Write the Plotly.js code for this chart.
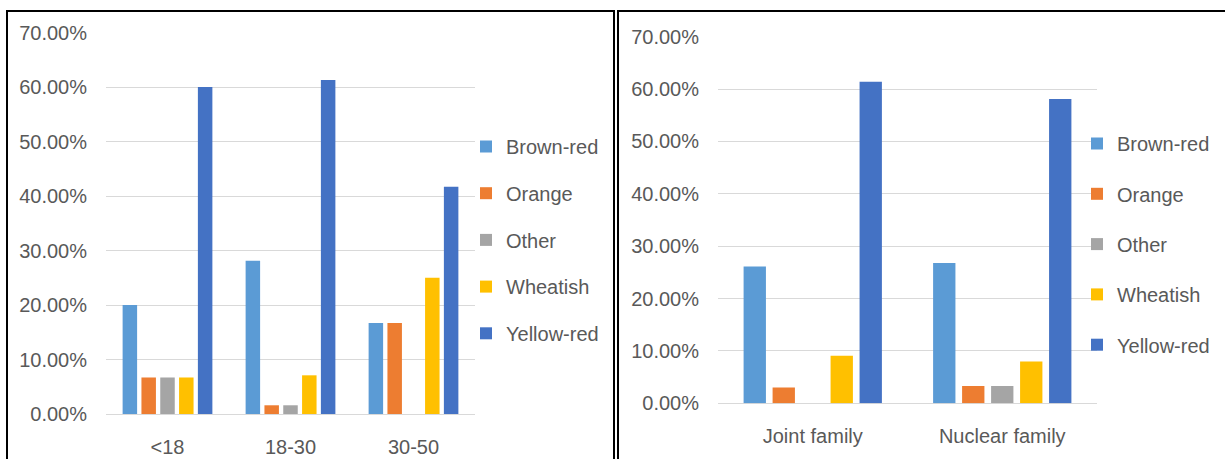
<!DOCTYPE html>
<html>
<head>
<meta charset="utf-8">
<script src="https://cdn.plot.ly/plotly-3.0.1.min.js"></script>
<style>
  html, body { margin: 0; padding: 0; background: #ffffff; }
  #chart { width: 1225px; height: 459px; }
</style>
</head>
<body>
<div id="chart"></div>
<script>
// Skin colour distribution (%) by age group and by family type
const seriesNames = ["Brown-red", "Orange", "Other", "Wheatish", "Yellow-red"];
const seriesColors = ["#5B9BD5", "#ED7D31", "#A5A5A5", "#FFC000", "#4472C4"];

const ageGroups = ["<18", "18-30", "30-50"];
const ageBrownRed  = [20.0, 28.1, 16.7];
const ageOrange    = [6.7, 1.6, 16.7];
const ageOther     = [6.7, 1.6, 0.0];
const ageWheatish  = [6.7, 7.1, 25.0];
const ageYellowRed = [60.0, 61.3, 41.7];

const familyTypes = ["Joint family", "Nuclear family"];
const famBrownRed  = [26.1, 26.8];
const famOrange    = [3.0, 3.3];
const famOther     = [0.0, 3.3];
const famWheatish  = [9.1, 8.0];
const famYellowRed = [61.4, 58.1];

const yTicks = [0, 10, 20, 30, 40, 50, 60, 70];
const yTickLabels = ["0.00%", "10.00%", "20.00%", "30.00%", "40.00%", "50.00%", "60.00%", "70.00%"];

const W = 1225, H = 459;
const px = v => v / W;          // horizontal pixel -> paper fraction
const py = v => 1 - v / H;      // vertical pixel (from top) -> paper fraction

const textColor = "#595959";
const gridColor = "#D9D9D9";
const fontFamily = "'Liberation Sans', Arial, sans-serif";
const fontSize = 20;

const ageSeries = [ageBrownRed, ageOrange, ageOther, ageWheatish, ageYellowRed];
const famSeries = [famBrownRed, famOrange, famOther, famWheatish, famYellowRed];

const traces = [];
seriesNames.forEach((name, i) => {
  traces.push({
    type: "bar", name: name, x: ageGroups, y: ageSeries[i],
    xaxis: "x", yaxis: "y", legend: "legend", legendgroup: "a" + i,
    marker: { color: seriesColors[i], line: { width: 0 } },
    hoverinfo: "x+y+name"
  });
});
seriesNames.forEach((name, i) => {
  traces.push({
    type: "bar", name: name, x: familyTypes, y: famSeries[i],
    xaxis: "x2", yaxis: "y2", legend: "legend2", legendgroup: "f" + i,
    marker: { color: seriesColors[i], line: { width: 0 } },
    hoverinfo: "x+y+name"
  });
});

function yAxis(domain, anchor) {
  return {
    domain: domain, anchor: anchor, range: [0, 70], fixedrange: true,
    tickmode: "array", tickvals: yTicks, ticktext: yTickLabels,
    showgrid: true, gridcolor: gridColor, gridwidth: 1,
    zeroline: true, zerolinecolor: gridColor, zerolinewidth: 1,
    showline: false, ticks: "", ticklabelstandoff: 18,
    tickfont: { family: fontFamily, size: fontSize, color: textColor }
  };
}
function xAxis(domain, anchor) {
  return {
    domain: domain, anchor: anchor, type: "category", fixedrange: true,
    showgrid: false, zeroline: false, showline: false, ticks: "",
    ticklabelstandoff: 19,
    tickfont: { family: fontFamily, size: fontSize, color: textColor }
  };
}

const legendFont = { family: fontFamily, size: fontSize, color: textColor };

const layout = {
  width: W, height: H,
  margin: { l: 0, r: 0, t: 0, b: 0 },
  paper_bgcolor: "#ffffff", plot_bgcolor: "#ffffff",
  barmode: "group", bargap: 0.235, bargroupgap: 0.23,
  showlegend: true,
  xaxis: xAxis([px(106), px(475)], "y"),
  yaxis: yAxis([py(414), py(32.5)], "x"),
  xaxis2: xAxis([px(718), px(1097)], "y2"),
  yaxis2: yAxis([py(403.3), py(36.7)], "x2"),
  legend: {
    x: px(470), y: py(127), xanchor: "left", yanchor: "top",
    orientation: "v", traceorder: "grouped", tracegroupgap: 17.7,
    indentation: -4,
    bgcolor: "rgba(0,0,0,0)", borderwidth: 0, font: legendFont
  },
  legend2: {
    x: px(1081), y: py(124), xanchor: "left", yanchor: "top",
    orientation: "v", traceorder: "grouped", tracegroupgap: 21.3,
    indentation: -4,
    bgcolor: "rgba(0,0,0,0)", borderwidth: 0, font: legendFont
  },
  shapes: [
    { type: "rect", xref: "paper", yref: "paper",
      x0: px(7), x1: px(614), y0: py(475), y1: py(11),
      line: { color: "#000000", width: 2 }, fillcolor: "rgba(0,0,0,0)", layer: "above" },
    { type: "rect", xref: "paper", yref: "paper",
      x0: px(618), x1: px(1240), y0: py(475), y1: py(11),
      line: { color: "#000000", width: 2 }, fillcolor: "rgba(0,0,0,0)", layer: "above" }
  ]
};

Plotly.newPlot("chart", traces, layout, { displayModeBar: false, staticPlot: true });
</script>
</body>
</html>
